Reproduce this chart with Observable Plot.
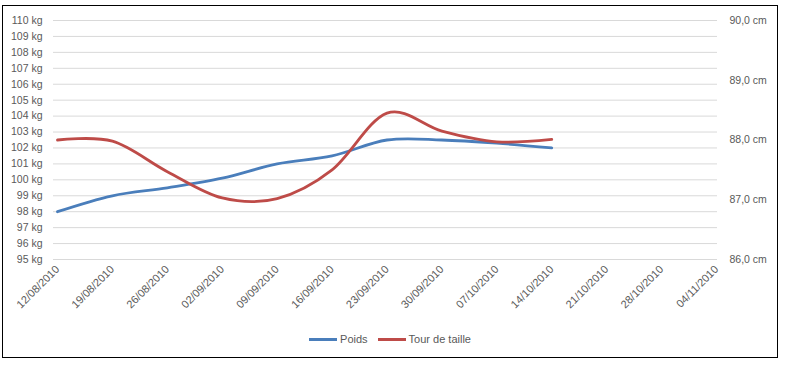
<!DOCTYPE html>
<html>
<head>
<meta charset="utf-8">
<script src="https://cdn.jsdelivr.net/npm/d3@7"></script>
<script src="https://cdn.jsdelivr.net/npm/@observablehq/plot@0.6"></script>
<style>
  html, body { margin: 0; padding: 0; background: #fff; }
  #frame {
    position: absolute; left: 2px; top: 5px; width: 776px; height: 353px;
    box-sizing: border-box; border: 1px solid #000; background: #fff;
    font-family: "Liberation Sans", sans-serif;
  }
  #legend {
    position: absolute; left: 0; top: 323px; width: 100%; height: 20px;
    display: flex; justify-content: center; align-items: center;
    font-size: 11px; color: #595959; font-family: "Liberation Sans", sans-serif;
  }
  .item { display: flex; align-items: center; margin: 0 5px; }
  .sw { width: 28px; height: 3px; margin-right: 3px; }
</style>
</head>
<body>
<div id="frame"><div id="chart"></div><div id="legend"></div></div>
<script>
// ---- data ----
const dates = ["2010-08-12","2010-08-19","2010-08-26","2010-09-02","2010-09-09",
               "2010-09-16","2010-09-23","2010-09-30","2010-10-07","2010-10-14"];
const poids = [98, 99, 99.5, 100.1, 101, 101.5, 102.5, 102.5, 102.3, 102];                // kg
const tourDeTaille = [88.0, 87.98, 87.47, 87.03, 87.02, 87.5, 88.45, 88.15, 87.97, 88.01]; // cm
const xTickLabels = ["12/08/2010","19/08/2010","26/08/2010","02/09/2010","09/09/2010",
                     "16/09/2010","23/09/2010","30/09/2010","07/10/2010","14/10/2010",
                     "21/10/2010","28/10/2010","04/11/2010"];
const kgTicks = [95,96,97,98,99,100,101,102,103,104,105,106,107,108,109,110];
const cmTicks = [86,87,88,89,90];
const seriesNames = ["Poids", "Tour de taille"];
const colors = ["#4a7ebb", "#be4b48"];

// secondary axis mapping: 86 cm -> 95 kg, 90 cm -> 110 kg
const toKg = cm => 110 - (90 - cm) * 3.75;
const toCm = kg => 90 - (110 - kg) / 3.75;
const parseFr = s => { const [d,m,y] = s.split("/"); return new Date(Date.UTC(+y, +m - 1, +d)); };

const poidsData = dates.map((d, i) => ({date: new Date(d), v: poids[i]}));
const tourData = dates.map((d, i) => ({date: new Date(d), v: toKg(tourDeTaille[i])}));
const xTicks = xTickLabels.map(parseFr);

const chart = Plot.plot({
  width: 774, height: 318,
  marginLeft: 50, marginRight: 60, marginTop: 14, marginBottom: 65,
  insetLeft: 4, insetRight: 1,
  style: {fontFamily: "Liberation Sans, sans-serif", fontSize: "10.5px", color: "#595959", background: "#fff"},
  x: {type: "utc", domain: [xTicks[0], xTicks[xTicks.length - 1]]},
  y: {domain: [95, 110]},
  marks: [
    Plot.gridY({ticks: kgTicks, stroke: "#d9d9d9", strokeOpacity: 1, strokeWidth: 1}),
    Plot.axisY({ticks: kgTicks, tickFormat: d => `${d} kg`, tickSize: 0, tickPadding: 11, label: null}),
    Plot.axisY({anchor: "right", ticks: cmTicks.map(toKg), tickFormat: d => toCm(d).toFixed(1).replace(".", ",") + " cm",
                tickSize: 0, tickPadding: 12, label: null}),
    Plot.axisX({ticks: xTicks, tickFormat: d => xTickLabels[xTicks.findIndex(t => +t === +d)],
                tickRotate: -45, tickSize: 0, tickPadding: 8, fontSize: 11, label: null}),
    Plot.line(poidsData, {x: "date", y: "v", stroke: colors[0], strokeWidth: 2.8, curve: "cardinal"}),
    Plot.line(tourData, {x: "date", y: "v", stroke: colors[1], strokeWidth: 2.8, curve: "cardinal"})
  ]
});
document.getElementById("chart").appendChild(chart);

const legend = document.getElementById("legend");
seriesNames.forEach((n, i) => {
  const it = document.createElement("div"); it.className = "item";
  const sw = document.createElement("div"); sw.className = "sw"; sw.style.background = colors[i];
  const tx = document.createElement("span"); tx.textContent = n;
  it.appendChild(sw); it.appendChild(tx); legend.appendChild(it);
});
</script>
</body>
</html>
